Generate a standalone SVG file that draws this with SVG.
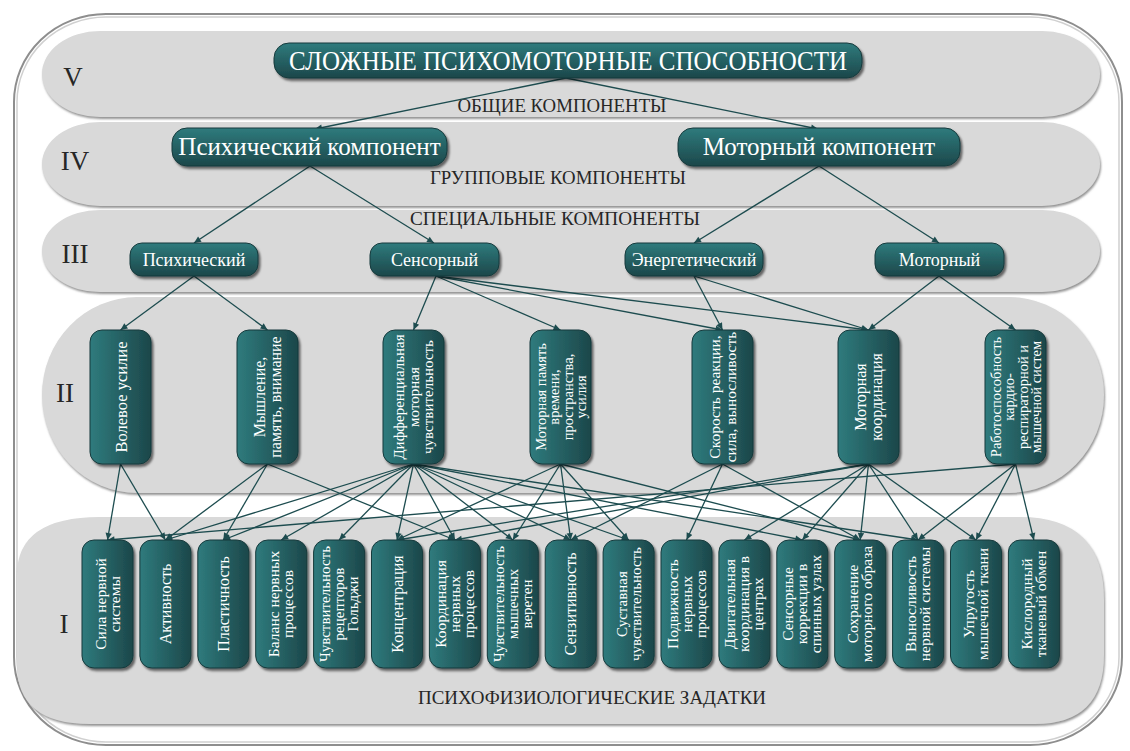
<svg xmlns="http://www.w3.org/2000/svg" width="1130" height="751" viewBox="0 0 1130 751">
<style>
.band{fill:#d9d9d9;filter:url(#bsh)}
.box{stroke:#173a3c;stroke-width:1;filter:url(#sh)}
.bh{fill:url(#gv)}
.bv{fill:url(#gh)}
.t{fill:#fff;font-family:"Liberation Serif","Times New Roman",serif;text-anchor:middle}
.lbl{fill:#262626;font-family:"Liberation Serif","Times New Roman",serif;text-anchor:middle}
.c line{stroke:#1d4c4f;stroke-width:1.3;marker-end:url(#ah)}
</style>
<defs>
<linearGradient id="gv" x1="0" y1="0" x2="0" y2="1"><stop offset="0" stop-color="#2f7b7d"/><stop offset="1" stop-color="#1c474a"/></linearGradient>
<linearGradient id="gh" x1="0" y1="0" x2="1" y2="0"><stop offset="0" stop-color="#2f7b7d"/><stop offset="1" stop-color="#1c474a"/></linearGradient>
<filter id="sh" x="-20%" y="-20%" width="140%" height="140%"><feDropShadow dx="2" dy="2.5" stdDeviation="0.8" flood-color="#000" flood-opacity="0.55"/></filter>
<filter id="bsh" x="-5%" y="-10%" width="110%" height="120%"><feDropShadow dx="1" dy="2" stdDeviation="1.2" flood-color="#777" flood-opacity="0.8"/></filter>
<marker id="ah" viewBox="0 0 10 10" refX="10" refY="5" markerWidth="8" markerHeight="7" orient="auto" markerUnits="userSpaceOnUse"><path d="M0,0.5 L10,5 L0,9.5 z" fill="#1d4c4f"/></marker>
</defs>
<rect x="0" y="0" width="1130" height="751" fill="#fff"/>
<g id="frame">
<rect x="14" y="14" width="1108" height="731" rx="92" ry="88" fill="#fff" stroke="#8e8e8e" stroke-width="2"/>
<rect x="17" y="17" width="1102" height="725" rx="89" ry="85" fill="none" stroke="#d0d0d0" stroke-width="1.5"/>
</g>
<g id="bands">
<rect class="band" x="42" y="31" width="1058" height="86" rx="58" ry="43"/>
<rect class="band" x="42" y="122" width="1058" height="84" rx="58" ry="42"/>
<rect class="band" x="42" y="210" width="1058" height="82" rx="58" ry="41"/>
<rect class="band" x="42" y="297" width="1062" height="196" rx="95" ry="98"/>
<path class="band" d="M100,517 H1020 Q1104,517 1104,600 V655 Q1104,724 1035,724 H90 Q17,724 17,665 V575 Q17,517 100,517 Z"/>
</g>
<g id="levels">
<text class="lbl" x="73" y="86" font-size="27">V</text>
<text class="lbl" x="75" y="170" font-size="27">IV</text>
<text class="lbl" x="75" y="263" font-size="27">III</text>
<text class="lbl" x="65" y="402" font-size="27">II</text>
<text class="lbl" x="64" y="633" font-size="27">I</text>
<text class="lbl" x="562" y="112" font-size="18" textLength="209" lengthAdjust="spacingAndGlyphs">ОБЩИЕ КОМПОНЕНТЫ</text>
<text class="lbl" x="558" y="184" font-size="18" textLength="256" lengthAdjust="spacingAndGlyphs">ГРУППОВЫЕ КОМПОНЕНТЫ</text>
<text class="lbl" x="555" y="225" font-size="18" textLength="290" lengthAdjust="spacingAndGlyphs">СПЕЦИАЛЬНЫЕ КОМПОНЕНТЫ</text>
<text class="lbl" x="592" y="704" font-size="18" textLength="348" lengthAdjust="spacingAndGlyphs">ПСИХОФИЗИОЛОГИЧЕСКИЕ ЗАДАТКИ</text>
</g>
<g id="connectors" class="c">
<line x1="566" y1="78" x2="315" y2="129"/>
<line x1="566" y1="78" x2="818" y2="129"/>
<line x1="310" y1="166" x2="194" y2="243"/>
<line x1="310" y1="166" x2="434" y2="243"/>
<line x1="819" y1="166" x2="694" y2="243"/>
<line x1="819" y1="166" x2="939" y2="243"/>
<line x1="194" y1="276" x2="120.5" y2="330"/>
<line x1="194" y1="276" x2="267.5" y2="330"/>
<line x1="436" y1="276" x2="413.5" y2="330"/>
<line x1="436" y1="276" x2="560.5" y2="330"/>
<line x1="436" y1="276" x2="722.5" y2="330"/>
<line x1="436" y1="276" x2="868.5" y2="330"/>
<line x1="694" y1="276" x2="722.5" y2="330"/>
<line x1="694" y1="276" x2="868.5" y2="330"/>
<line x1="939" y1="276" x2="868.5" y2="330"/>
<line x1="939" y1="276" x2="1015.5" y2="330"/>
<line x1="120.5" y1="464" x2="107.5" y2="540"/>
<line x1="120.5" y1="464" x2="165.4" y2="540"/>
<line x1="267.5" y1="464" x2="165.4" y2="540"/>
<line x1="267.5" y1="464" x2="223.3" y2="540"/>
<line x1="267.5" y1="464" x2="454.9" y2="540"/>
<line x1="413.5" y1="464" x2="165.4" y2="540"/>
<line x1="413.5" y1="464" x2="223.3" y2="540"/>
<line x1="413.5" y1="464" x2="281.2" y2="540"/>
<line x1="413.5" y1="464" x2="339.1" y2="540"/>
<line x1="413.5" y1="464" x2="397" y2="540"/>
<line x1="413.5" y1="464" x2="454.9" y2="540"/>
<line x1="413.5" y1="464" x2="512.8" y2="540"/>
<line x1="413.5" y1="464" x2="570.7" y2="540"/>
<line x1="413.5" y1="464" x2="628.6" y2="540"/>
<line x1="413.5" y1="464" x2="802.3" y2="540"/>
<line x1="413.5" y1="464" x2="918.1" y2="540"/>
<line x1="560.5" y1="464" x2="397" y2="540"/>
<line x1="560.5" y1="464" x2="512.8" y2="540"/>
<line x1="560.5" y1="464" x2="570.7" y2="540"/>
<line x1="560.5" y1="464" x2="628.6" y2="540"/>
<line x1="560.5" y1="464" x2="860.2" y2="540"/>
<line x1="722.5" y1="464" x2="570.7" y2="540"/>
<line x1="722.5" y1="464" x2="686.5" y2="540"/>
<line x1="722.5" y1="464" x2="860.2" y2="540"/>
<line x1="868.5" y1="464" x2="397" y2="540"/>
<line x1="868.5" y1="464" x2="454.9" y2="540"/>
<line x1="868.5" y1="464" x2="744.4" y2="540"/>
<line x1="868.5" y1="464" x2="802.3" y2="540"/>
<line x1="868.5" y1="464" x2="860.2" y2="540"/>
<line x1="868.5" y1="464" x2="918.1" y2="540"/>
<line x1="868.5" y1="464" x2="976" y2="540"/>
<line x1="1015.5" y1="464" x2="107.5" y2="540"/>
<line x1="1015.5" y1="464" x2="918.1" y2="540"/>
<line x1="1015.5" y1="464" x2="976" y2="540"/>
<line x1="1015.5" y1="464" x2="1033.9" y2="540"/>
</g>
<g id="n-title"><rect class="box bh" x="274" y="43" width="588" height="35" rx="15"/><text class="t" x="568" y="70" font-size="28" textLength="558" lengthAdjust="spacingAndGlyphs">СЛОЖНЫЕ ПСИХОМОТОРНЫЕ СПОСОБНОСТИ</text></g>
<g id="n-psych-comp"><rect class="box bh" x="172" y="128" width="275" height="38" rx="15"/><text class="t" x="309.5" y="155" font-size="25">Психический компонент</text></g>
<g id="n-motor-comp"><rect class="box bh" x="678" y="128" width="282" height="38" rx="15"/><text class="t" x="819" y="155" font-size="25">Моторный компонент</text></g>
<g id="n-psych"><rect class="box bh" x="130" y="243" width="128" height="33" rx="12"/><text class="t" x="194" y="266" font-size="18">Психический</text></g>
<g id="n-sens"><rect class="box bh" x="370" y="243" width="129" height="33" rx="12"/><text class="t" x="434.5" y="266" font-size="18">Сенсорный</text></g>
<g id="n-energ"><rect class="box bh" x="625" y="243" width="138" height="33" rx="12"/><text class="t" x="694" y="266" font-size="18">Энергетический</text></g>
<g id="n-motor"><rect class="box bh" x="875" y="243" width="129" height="33" rx="12"/><text class="t" x="939.5" y="266" font-size="18">Моторный</text></g>
<g id="n2-a"><rect class="box bv" x="90" y="330" width="61" height="134" rx="12"/><text class="t" font-size="16.5" transform="translate(120.5,397) rotate(-90)"><tspan x="0" dy="6">Волевое усилие</tspan></text></g>
<g id="n2-b"><rect class="box bv" x="237" y="330" width="61" height="134" rx="12"/><text class="t" font-size="16" transform="translate(267.5,397) rotate(-90)"><tspan x="0" dy="-2.5">Мышление,</tspan><tspan x="0" dy="15.5">память, внимание</tspan></text></g>
<g id="n2-c"><rect class="box bv" x="383" y="330" width="61" height="134" rx="12"/><text class="t" font-size="15" transform="translate(413.5,397) rotate(-90)"><tspan x="0" dy="-9.5">Дифференциальная</tspan><tspan x="0" dy="14.5">моторная</tspan><tspan x="0" dy="14.5">чувствительность</tspan></text></g>
<g id="n2-d"><rect class="box bv" x="530" y="330" width="61" height="134" rx="12"/><text class="t" font-size="14.5" transform="translate(560.5,397) rotate(-90)"><tspan x="0" dy="-15">Моторная память</tspan><tspan x="0" dy="13.5">времени,</tspan><tspan x="0" dy="13.5">пространства,</tspan><tspan x="0" dy="13.5">усилия</tspan></text></g>
<g id="n2-e"><rect class="box bv" x="692" y="330" width="61" height="134" rx="12"/><text class="t" font-size="15.5" transform="translate(722.5,397) rotate(-90)"><tspan x="0" dy="-2.5">Скорость реакции,</tspan><tspan x="0" dy="15.5">сила, выносливость</tspan></text></g>
<g id="n2-f"><rect class="box bv" x="838" y="330" width="61" height="134" rx="12"/><text class="t" font-size="16" transform="translate(868.5,397) rotate(-90)"><tspan x="0" dy="-2.5">Моторная</tspan><tspan x="0" dy="15.5">координация</tspan></text></g>
<g id="n2-g"><rect class="box bv" x="985" y="330" width="61" height="134" rx="12"/><text class="t" font-size="14.5" transform="translate(1015.5,397) rotate(-90)"><tspan x="0" dy="-15">Работоспособность</tspan><tspan x="0" dy="13.5">кардио-</tspan><tspan x="0" dy="13.5">респираторной и</tspan><tspan x="0" dy="13.5">мышечной систем</tspan></text></g>
<g id="n1-0"><rect class="box bv" x="82" y="540" width="51" height="128" rx="12"/><text class="t" font-size="15.5" transform="translate(107.5,604) rotate(-90)"><tspan x="0" dy="-2">Сила нервной</tspan><tspan x="0" dy="14">системы</tspan></text></g>
<g id="n1-1"><rect class="box bv" x="139.9" y="540" width="51" height="128" rx="12"/><text class="t" font-size="16" transform="translate(165.4,604) rotate(-90)"><tspan x="0" dy="5.5">Активность</tspan></text></g>
<g id="n1-2"><rect class="box bv" x="197.8" y="540" width="51" height="128" rx="12"/><text class="t" font-size="16" transform="translate(223.3,604) rotate(-90)"><tspan x="0" dy="5.5">Пластичность</tspan></text></g>
<g id="n1-3"><rect class="box bv" x="255.7" y="540" width="51" height="128" rx="12"/><text class="t" font-size="15.5" transform="translate(281.2,604) rotate(-90)"><tspan x="0" dy="-2">Баланс нервных</tspan><tspan x="0" dy="14">процессов</tspan></text></g>
<g id="n1-4"><rect class="box bv" x="313.6" y="540" width="51" height="128" rx="12"/><text class="t" font-size="15" transform="translate(339.1,604) rotate(-90)"><tspan x="0" dy="-9">Чувствительность</tspan><tspan x="0" dy="14">рецепторов</tspan><tspan x="0" dy="14">Гольджи</tspan></text></g>
<g id="n1-5"><rect class="box bv" x="371.5" y="540" width="51" height="128" rx="12"/><text class="t" font-size="16" transform="translate(397,604) rotate(-90)"><tspan x="0" dy="5.5">Концентрация</tspan></text></g>
<g id="n1-6"><rect class="box bv" x="429.4" y="540" width="51" height="128" rx="12"/><text class="t" font-size="15.5" transform="translate(454.9,604) rotate(-90)"><tspan x="0" dy="-9">Координация</tspan><tspan x="0" dy="14">нервных</tspan><tspan x="0" dy="14">процессов</tspan></text></g>
<g id="n1-7"><rect class="box bv" x="487.3" y="540" width="51" height="128" rx="12"/><text class="t" font-size="15" transform="translate(512.8,604) rotate(-90)"><tspan x="0" dy="-9">Чувствительность</tspan><tspan x="0" dy="14">мышечных</tspan><tspan x="0" dy="14">веретен</tspan></text></g>
<g id="n1-8"><rect class="box bv" x="545.2" y="540" width="51" height="128" rx="12"/><text class="t" font-size="16" transform="translate(570.7,604) rotate(-90)"><tspan x="0" dy="5.5">Сензитивность</tspan></text></g>
<g id="n1-9"><rect class="box bv" x="603.1" y="540" width="51" height="128" rx="12"/><text class="t" font-size="15" transform="translate(628.6,604) rotate(-90)"><tspan x="0" dy="-2">Суставная</tspan><tspan x="0" dy="14">чувствительность</tspan></text></g>
<g id="n1-10"><rect class="box bv" x="661" y="540" width="51" height="128" rx="12"/><text class="t" font-size="15.5" transform="translate(686.5,604) rotate(-90)"><tspan x="0" dy="-9">Подвижность</tspan><tspan x="0" dy="14">нервных</tspan><tspan x="0" dy="14">процессов</tspan></text></g>
<g id="n1-11"><rect class="box bv" x="718.9" y="540" width="51" height="128" rx="12"/><text class="t" font-size="15.5" transform="translate(744.4,604) rotate(-90)"><tspan x="0" dy="-9">Двигательная</tspan><tspan x="0" dy="14">координация в</tspan><tspan x="0" dy="14">центрах</tspan></text></g>
<g id="n1-12"><rect class="box bv" x="776.8" y="540" width="51" height="128" rx="12"/><text class="t" font-size="15.5" transform="translate(802.3,604) rotate(-90)"><tspan x="0" dy="-9">Сенсорные</tspan><tspan x="0" dy="14">коррекции в</tspan><tspan x="0" dy="14">спинных узлах</tspan></text></g>
<g id="n1-13"><rect class="box bv" x="834.7" y="540" width="51" height="128" rx="12"/><text class="t" font-size="15.5" transform="translate(860.2,604) rotate(-90)"><tspan x="0" dy="-2">Сохранение</tspan><tspan x="0" dy="14">моторного образа</tspan></text></g>
<g id="n1-14"><rect class="box bv" x="892.6" y="540" width="51" height="128" rx="12"/><text class="t" font-size="15.5" transform="translate(918.1,604) rotate(-90)"><tspan x="0" dy="-2">Выносливость</tspan><tspan x="0" dy="14">нервной системы</tspan></text></g>
<g id="n1-15"><rect class="box bv" x="950.5" y="540" width="51" height="128" rx="12"/><text class="t" font-size="15.5" transform="translate(976,604) rotate(-90)"><tspan x="0" dy="-2">Упругость</tspan><tspan x="0" dy="14">мышечной ткани</tspan></text></g>
<g id="n1-16"><rect class="box bv" x="1008.4" y="540" width="51" height="128" rx="12"/><text class="t" font-size="15.5" transform="translate(1033.9,604) rotate(-90)"><tspan x="0" dy="-2">Кислородный</tspan><tspan x="0" dy="14">тканевый обмен</tspan></text></g>
</svg>
